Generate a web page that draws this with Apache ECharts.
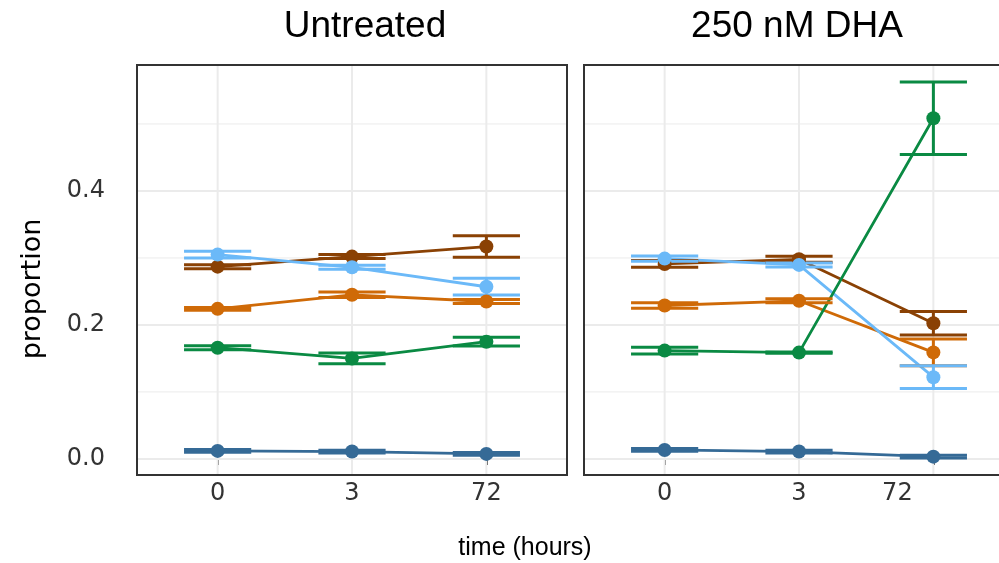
<!DOCTYPE html>
<html><head><meta charset="utf-8">
<script src="https://cdn.jsdelivr.net/npm/echarts@6/dist/echarts.min.js"></script>
<style>html,body{margin:0;padding:0;background:#fff}#c{width:999px;height:563px}</style>
</head><body><div id="c"></div>
<script>
// ---- data ----
const panelTitles = ['Untreated', '250 nM DHA'];
const timeLabels = ['0', '3', '72'];
const yTickValues = [0, 0.2, 0.4];
const yMinorValues = [0.1, 0.3, 0.5];
const groupColors = ['#356A96', '#8A4104', '#CF6A07', '#6BB9F8', '#0A8A43'];

// group order: dark blue, brown, orange, light blue, green
const untreatedMeans = [
  [0.012, 0.011, 0.0075],
  [0.287, 0.302, 0.317],
  [0.224, 0.245, 0.235],
  [0.305, 0.286, 0.257],
  [0.166, 0.150, 0.175]
];
const untreatedErr = [
  [0.002, 0.002, 0.002],
  [0.003, 0.003, 0.016],
  [0.002, 0.004, 0.003],
  [0.005, 0.003, 0.0125],
  [0.003, 0.008, 0.0065]
];
const dhaMeans = [
  [0.0134, 0.011, 0.0034],
  [0.291, 0.298, 0.2025],
  [0.229, 0.236, 0.159],
  [0.299, 0.2896, 0.122],
  [0.1617, 0.1587, 0.5085]
];
const dhaErr = [
  [0.002, 0.002, 0.002],
  [0.005, 0.0045, 0.0175],
  [0.004, 0.003, 0.02],
  [0.004, 0.003, 0.017],
  [0.005, 0.001, 0.054]
];

// ---- chart ----
const FONT = 'Liberation Sans, Arial, sans-serif';
const WFONT = 'DejaVu Sans, sans-serif';
const panelMeans = [untreatedMeans, dhaMeans];
const panelErr = [untreatedErr, dhaErr];
const xIdx = timeLabels.map((_, i) => i);
const X_MIN = -0.6, X_MAX = 2.6, Y_MIN = -0.024, Y_MAX = 0.588;

const grids = [
  {left: 137, top: 65, width: 430, height: 410},
  {left: 584, top: 65, width: 430, height: 410}
].map(g => Object.assign(g, {show: false, containLabel: false, outerBoundsMode: 'none'}));

const xAxes = [0, 1].map(p => ({
  gridIndex: p, type: 'value', min: X_MIN, max: X_MAX,
  axisLine: {show: false},
  splitLine: {show: false},
  axisTick: {show: true, length: 6, lineStyle: {color: '#333', width: 2}, customValues: xIdx},
  axisLabel: {
    customValues: xIdx, fontSize: 24, fontFamily: WFONT, color: '#333', margin: 7,
    formatter: v => (p === 1 && v === 2) ? '{s|' + timeLabels[v] + '}' : timeLabels[v],
    rich: {s: {fontSize: 24, fontFamily: WFONT, color: '#333', padding: [0, 72, 0, 0]}}
  }
}));

const yAxes = [0, 1].map(p => ({
  gridIndex: p, type: 'value', min: Y_MIN, max: Y_MAX,
  axisLine: {show: false},
  splitLine: {show: false},
  axisTick: {show: p === 0, length: 6, lineStyle: {color: '#333', width: 2}, customValues: yTickValues},
  axisLabel: {show: p === 0, customValues: yTickValues, fontSize: 24, fontFamily: WFONT, color: '#333', margin: 32,
    formatter: v => v.toFixed(1)}
}));

const series = [];
[0, 1].forEach(p => {
  const gl = [];
  yTickValues.forEach(v => gl.push({value: [0, v], dir: 'h', major: true}));
  yMinorValues.forEach(v => gl.push({value: [0, v], dir: 'h', major: false}));
  xIdx.forEach(v => gl.push({value: [v, 0], dir: 'v', major: true}));
  // grid lines
  series.push({
    type: 'custom', xAxisIndex: p, yAxisIndex: p, z: 1, silent: true, animation: false, clip: false,
    data: gl.map(d => d.value),
    renderItem: (params, api) => {
      const d = gl[params.dataIndex];
      const pt = api.coord([api.value(0), api.value(1)]);
      const tl = api.coord([X_MIN, Y_MAX]), br = api.coord([X_MAX, Y_MIN]);
      const style = {stroke: '#EBEBEB', lineWidth: d.major ? 2 : 1};
      if (d.dir === 'h') {
        return {type: 'line', shape: {x1: tl[0] + 1, y1: pt[1], x2: br[0] - 1, y2: pt[1]}, style};
      }
      return {type: 'line', shape: {x1: pt[0], y1: tl[1] + 1, x2: pt[0], y2: br[1] - 1}, style};
    }
  });
  // panel border
  series.push({
    type: 'custom', xAxisIndex: p, yAxisIndex: p, z: 6, silent: true, animation: false, clip: false,
    data: [[X_MIN, Y_MIN, X_MAX, Y_MAX]],
    renderItem: (params, api) => {
      const tl = api.coord([api.value(0), api.value(3)]), br = api.coord([api.value(2), api.value(1)]);
      return {type: 'rect', shape: {x: tl[0], y: tl[1], width: br[0] - tl[0], height: br[1] - tl[1]},
        style: {fill: 'none', stroke: '#333', lineWidth: 2}};
    }
  });
  panelMeans[p].forEach((means, g) => {
    const col = groupColors[g];
    series.push({
      type: 'line', xAxisIndex: p, yAxisIndex: p, z: 2 + g * 0.01, silent: true, animation: false,
      showSymbol: false, symbol: 'none',
      lineStyle: {color: col, width: 2.8},
      data: means.map((v, i) => [i, v])
    });
    const errs = panelErr[p][g];
    series.push({
      type: 'custom', xAxisIndex: p, yAxisIndex: p, z: 3 + g * 0.01, silent: true, animation: false,
      data: means.map((v, i) => [i, v - errs[i], v + errs[i]]),
      renderItem: (params, api) => {
        const x = api.value(0), lo = api.value(1), hi = api.value(2);
        const a = api.coord([x, lo]), b = api.coord([x, hi]);
        const l1 = api.coord([x - 0.25, lo]), r1 = api.coord([x + 0.25, lo]);
        const l2 = api.coord([x - 0.25, hi]), r2 = api.coord([x + 0.25, hi]);
        const style = {stroke: col, lineWidth: 3};
        return {type: 'group', children: [
          {type: 'line', shape: {x1: a[0], y1: a[1], x2: b[0], y2: b[1]}, style},
          {type: 'line', shape: {x1: l1[0], y1: l1[1], x2: r1[0], y2: r1[1]}, style},
          {type: 'line', shape: {x1: l2[0], y1: l2[1], x2: r2[0], y2: r2[1]}, style}
        ]};
      }
    });
    series.push({
      type: 'scatter', xAxisIndex: p, yAxisIndex: p, z: 4 + g * 0.01, silent: true, animation: false,
      symbol: 'circle', symbolSize: 14,
      itemStyle: {color: col, opacity: 1},
      data: means.map((v, i) => [i, v])
    });
  });
});

const titleStyle = {fontSize: 37, fontWeight: 'normal', color: '#000', fontFamily: FONT};
const titles = [
  {text: panelTitles[0], left: 365, top: 8, padding: 0, textAlign: 'center', textStyle: titleStyle},
  {text: panelTitles[1], left: 797, top: 8, padding: 0, textAlign: 'center', textStyle: titleStyle}
];

const chart = echarts.init(document.getElementById('c'), null, {renderer: 'canvas'});
chart.setOption({
  animation: false,
  backgroundColor: '#fff',
  title: titles,
  grid: grids,
  xAxis: xAxes,
  yAxis: yAxes,
  series: series,
  graphic: [
    {type: 'text', x: 33, y: 289, rotation: Math.PI / 2,
      style: {text: 'proportion', fontSize: 27, fontFamily: WFONT, fill: '#000', align: 'center', verticalAlign: 'middle'}},
    {type: 'text', x: 525, y: 548,
      style: {text: 'time (hours)', fontSize: 25, fontFamily: FONT, fill: '#000', align: 'center', verticalAlign: 'middle'}}
  ]
});
</script>
</body></html>
